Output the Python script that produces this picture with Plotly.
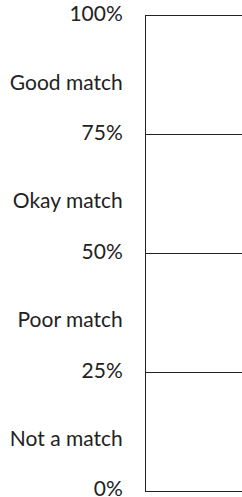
import plotly.graph_objects as go

pct_vals = [0, 25, 50, 75, 100]
pct_labels = ["0%", "25%", "50%", "75%", "100%"]
cat_vals = [12.5, 37.5, 62.5, 87.5]
cat_labels = ["Not a match", "Poor match", "Okay match", "Good match"]

FONT = dict(family="Lato, 'Open Sans', sans-serif", size=21, color="#222222")
LINE = "#222222"

fig = go.Figure()
fig.add_trace(go.Scatter(x=[0], y=[0], mode="markers", marker=dict(opacity=0),
                         hoverinfo="skip", showlegend=False, yaxis="y"))
fig.add_trace(go.Scatter(x=[0], y=[0], mode="markers", marker=dict(opacity=0),
                         hoverinfo="skip", showlegend=False, yaxis="y2"))

fig.update_layout(
    width=242, height=497,
    margin=dict(l=146, r=0, t=16, b=6),
    paper_bgcolor="white", plot_bgcolor="white",
    showlegend=False,
    font=FONT,
    xaxis=dict(range=[0, 1], showticklabels=False, showgrid=False, zeroline=False,
               showline=True, mirror=True, linecolor=LINE, linewidth=1, ticks="",
               automargin=False),
    yaxis=dict(range=[0, 100], tickvals=pct_vals, ticktext=pct_labels,
               showgrid=True, gridcolor=LINE, gridwidth=1,
               zeroline=False, showline=True, linecolor=LINE, linewidth=1,
               ticks="outside", ticklen=18, tickcolor="rgba(0,0,0,0)",
               tickfont=FONT, ticklabeloverflow="allow", ticklabelshift=-2,
               automargin=False),
    yaxis2=dict(range=[0, 100], overlaying="y", side="left",
                tickvals=cat_vals, ticktext=cat_labels,
                showgrid=False, zeroline=False, showline=False,
                ticks="outside", ticklen=18, tickcolor="rgba(0,0,0,0)",
                tickfont=FONT, ticklabeloverflow="allow", ticklabelshift=7,
                automargin=False),
)

fig.write_html(
    "out.html",
    config={"displayModeBar": False, "staticPlot": True},
    post_script="document.body.style.margin='0';"
                "document.documentElement.style.overflow='hidden';"
                "document.body.style.overflow='hidden';",
)
